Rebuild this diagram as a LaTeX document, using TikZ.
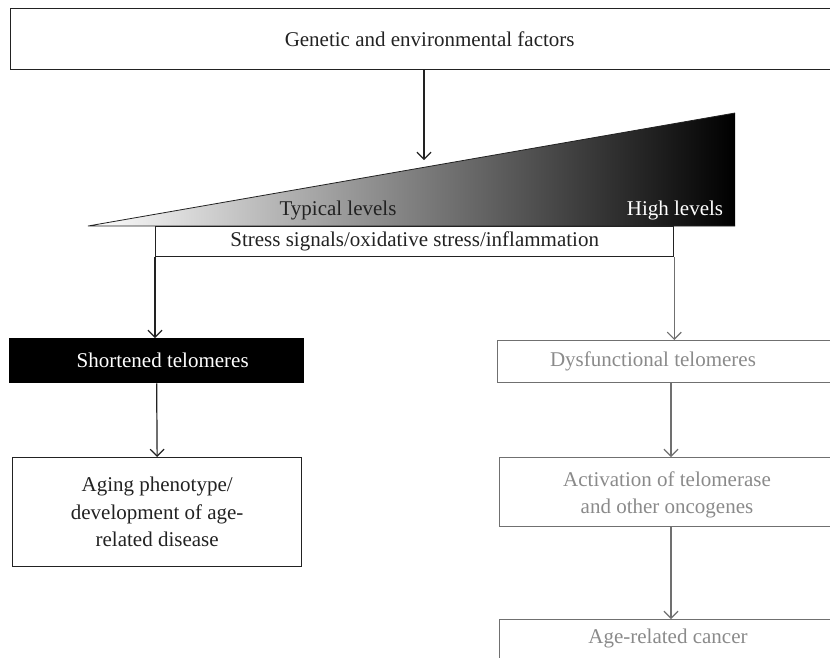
\documentclass[tikz,border=0pt]{standalone}
\usepackage{fontspec}
\setmainfont{Liberation Serif}
\usetikzlibrary{arrows.meta}
\definecolor{dk}{HTML}{222222}
\definecolor{gtext}{HTML}{8A8A8A}
\definecolor{gline}{HTML}{707070}
\begin{document}
\begin{tikzpicture}[x=1pt,y=-1pt,font=\fontsize{21}{27.5}\selectfont,
  box/.style={draw=dk,line width=1.3pt,inner sep=0pt,anchor=north west,text=dk,align=center},
  gbox/.style={draw=gline,line width=1.3pt,inner sep=0pt,anchor=north west},
  conn/.style={draw=dk,line width=1.2pt,-{Straight Barb[length=7pt,width=14pt,line width=1.2pt]}},
  gconn/.style={conn,draw=gline},
  gtxt/.style={text=gtext,inner sep=0pt,align=center}]
\useasboundingbox (0,0) rectangle (830,657);
\clip (0,0) rectangle (830,657);
% top box
\node[box,minimum width=838pt,minimum height=61pt] (gen) at (10,8) {Genetic and environmental factors};
% wedge
\shade[left color=white,right color=black] (88,226) -- (735,113) -- (735,226) -- cycle;
\draw[dk,line width=0.8pt] (735,226) -- (88,226) -- (735,113);
\coordinate (wedgetop) at (424,160);
\draw[conn] (gen.south -| wedgetop) -- (wedgetop);
\node[text=dk,inner sep=0pt] (typ) at (338,210) {Typical levels};
\node[text=white,inner sep=0pt] (high) at (675,210) {High levels};
% stress box
\node[box,minimum width=518pt,minimum height=30pt] (stress) at (155,226) {Stress signals/oxidative stress/inflammation};
% left branch
\node[box,fill=black,text=white,draw=black,minimum width=294pt,minimum height=44pt,text depth=0pt] (short) at (9,338) {\hspace*{12pt}Shortened telomeres};
\node[box,minimum width=289pt,minimum height=109pt] (aging) at (12,457) {Aging phenotype/\\development of age-\\related disease};
\draw[conn] (stress.south west) -- (stress.south west |- short.north);
\draw[conn] (short.south) -- (aging.north);
% right branch
\coordinate (rcol) at (671,0);
\node[gbox,minimum width=350pt,minimum height=42pt] (dys) at (497,340) {};
\node[gtxt] (dystxt) at (653,361) {Dysfunctional telomeres};
\node[gbox,minimum width=350pt,minimum height=69pt] (act) at (499,457) {};
\node[gtxt] (acttxt) at (667,495) {Activation of telomerase\\and other oncogenes};
\node[gbox,minimum width=350pt,minimum height=60pt] (canc) at (499,619) {};
\node[gtxt] (canctxt) at (668,638) {Age-related cancer};
\draw[gconn] (stress.south east) -- (stress.south east |- dys.north);
\draw[gconn] (rcol |- dys.south) -- (rcol |- act.north);
\draw[gconn] (rcol |- act.south) -- (rcol |- canc.north);
\end{tikzpicture}
\end{document}
